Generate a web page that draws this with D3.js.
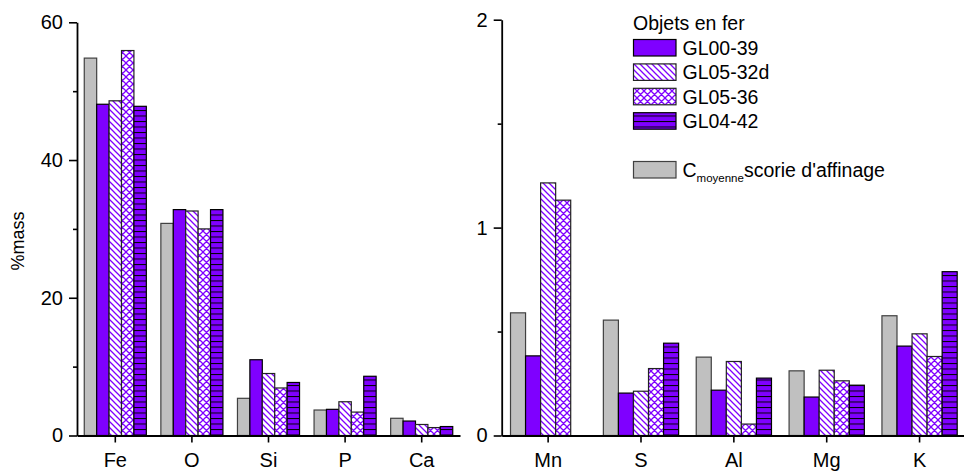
<!DOCTYPE html>
<html><head><meta charset="utf-8">
<script src="https://cdn.jsdelivr.net/npm/d3@7"></script>
<style>
body{margin:0;background:#fff;}
svg{display:block;font-family:"Liberation Sans",Arial,sans-serif;}
</style></head>
<body><svg id="c" width="964" height="472"></svg>
<script>
const series = ["C moyenne scorie d'affinage","GL00-39","GL05-32d","GL05-36","GL04-42"];
const leftCats = ["Fe","O","Si","P","Ca"];
const rightCats = ["Mn","S","Al","Mg","K"];
// values per series for left (%mass) categories Fe, O, Si, P, Ca
const scorieLeft = [54.8, 30.8, 5.4, 3.7, 2.5];
const gl0039Left = [48.1, 32.8, 11.0, 3.8, 2.1];
const gl0532dLeft = [48.6, 32.6, 9.0, 4.9, 1.6];
const gl0536Left = [55.9, 30.0, 6.9, 3.4, 1.15];
const gl0442Left = [47.8, 32.8, 7.7, 8.6, 1.3];
// right categories Mn, S, Al, Mg, K
const scorieRight = [0.59, 0.555, 0.377, 0.311, 0.576];
const gl0039Right = [0.383, 0.204, 0.218, 0.185, 0.43];
const gl0532dRight = [1.215, 0.213, 0.356, 0.314, 0.489];
const gl0536Right = [1.132, 0.322, 0.055, 0.263, 0.38];
const gl0442Right = [null, 0.444, 0.276, 0.242, 0.788];
const leftTicks = [0,20,40,60], leftMinor = [10,30,50];
const rightTicks = [0,1,2], rightMinor = [0.5,1.5];

const leftVals = [scorieLeft, gl0039Left, gl0532dLeft, gl0536Left, gl0442Left];
const rightVals = [scorieRight, gl0039Right, gl0532dRight, gl0536Right, gl0442Right];

const PURPLE = "#7f00ff";
const svg = d3.select("#c");
const defs = svg.append("defs");
// diagonal hatch
let p = defs.append("pattern").attr("id","diag").attr("patternUnits","userSpaceOnUse").attr("width",6).attr("height",6);
p.append("rect").attr("width",6).attr("height",6).attr("fill","#fff");
p.append("path").attr("d","M0,0L6,6M-3,3L3,9M3,-3L9,3").attr("stroke",PURPLE).attr("stroke-width",1.3);
// cross hatch
p = defs.append("pattern").attr("id","cross").attr("patternUnits","userSpaceOnUse").attr("width",7).attr("height",7);
p.append("rect").attr("width",7).attr("height",7).attr("fill","#fff");
p.append("path").attr("d","M0,0L7,7M7,0L0,7M-1,6L1,8M6,-1L8,1M-1,1L1,-1M6,8L8,6").attr("stroke",PURPLE).attr("stroke-width",1.3);
// horizontal lines
p = defs.append("pattern").attr("id","horiz").attr("patternUnits","userSpaceOnUse").attr("width",8).attr("height",5.5);
p.append("rect").attr("width",8).attr("height",5.5).attr("fill",PURPLE);
p.append("rect").attr("width",8).attr("height",1).attr("y",0).attr("fill","#000");

const fills = ["#c0c0c0", PURPLE, "url(#diag)", "url(#cross)", "url(#horiz)"];
const strokes = ["#404040", "#000", "#222", "#222", "#000"];

const Y0 = 435.5;
function panel(cats, vals, xr, yTop, yMax, ticks, minor){
  const x0 = d3.scaleBand().domain(cats).range(xr).padding(0);
  const x1 = d3.scaleBand().domain(series).range([0, x0.bandwidth()]).paddingInner(0).paddingOuter(0.585);
  const y = d3.scaleLinear().domain([0,yMax]).range([Y0, yTop]);
  const g = svg.append("g");
  series.forEach((s,si)=>{
    cats.forEach((c,ci)=>{
      const v = vals[si][ci];
      if(v==null) return;
      g.append("rect")
        .attr("x", x0(c)+x1(s)).attr("width", x1.bandwidth())
        .attr("y", y(v)).attr("height", Y0 - y(v))
        .attr("fill", fills[si]).attr("stroke", strokes[si]).attr("stroke-width",1.2);
    });
  });
  const ya = svg.append("g").attr("transform",`translate(${xr[0]},0)`)
    .call(d3.axisLeft(y).tickValues(ticks).tickSize(8).tickPadding(6).tickSizeOuter(0).tickFormat(d3.format("d")));
  const ym = svg.append("g").attr("transform",`translate(${xr[0]},0)`)
    .call(d3.axisLeft(y).tickValues(minor).tickSize(4).tickFormat(""));
  ym.select(".domain").remove();
  const xa = svg.append("g").attr("transform",`translate(0,${Y0})`)
    .call(d3.axisBottom(x0).tickSize(7).tickPadding(10).tickSizeOuter(0));
  [ya,ym,xa].forEach(a=>{
    a.selectAll("text").attr("font-size",20).attr("fill","#000").attr("font-family",'"Liberation Sans",Arial,sans-serif');
    a.selectAll("line").attr("stroke","#000").attr("stroke-width",1.6);
    a.selectAll("path.domain").attr("stroke","#000").attr("stroke-width",1.8).attr("fill","none");
  });
}
panel(leftCats, leftVals, [77, 460], 22.3, 60, leftTicks, leftMinor);
panel(rightCats, rightVals, [501.7, 966], 19.7, 2, rightTicks, rightMinor);

svg.append("text").attr("transform","translate(24,241) rotate(-90)")
  .attr("text-anchor","middle").attr("font-size",18).attr("fill","#000").text("%mass");

// legend
const lg = svg.append("g");
lg.append("text").attr("x",633).attr("y",30).attr("font-size",19.5).attr("fill","#000").text("Objets en fer");
const rows = [1,2,3,4].map((si,i)=>({si, y:39.5+i*24.4}));
rows.push({si:0, y:161.5});
rows.forEach(r=>{
  lg.append("rect").attr("x",633.5).attr("y",r.y).attr("width",42.5).attr("height",16.5)
    .attr("fill",fills[r.si]).attr("stroke",strokes[r.si]).attr("stroke-width",1.2);
  const t = lg.append("text").attr("x",682.5).attr("y",r.y+15.3).attr("font-size",19.5).attr("fill","#000");
  if(r.si===0){
    t.append("tspan").text("C");
    t.append("tspan").attr("font-size",11.5).attr("dy",5).text("moyenne");
    t.append("tspan").attr("dy",-5).text("scorie d'affinage");
  } else t.text(series[r.si]);
});
</script></body></html>
